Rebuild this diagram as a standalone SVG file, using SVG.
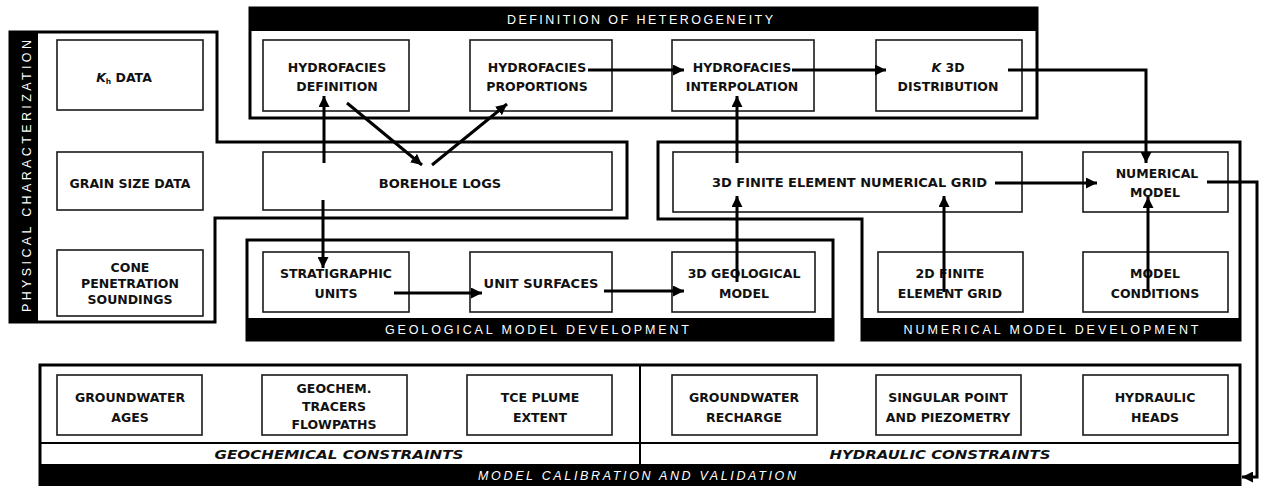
<svg xmlns="http://www.w3.org/2000/svg" width="1262" height="486" viewBox="0 0 1262 486">
<style>
.frame{fill:none;stroke:#000;stroke-width:3}
.box{fill:#fff;stroke:#1a1a1a;stroke-width:1.6}
.band{fill:#000}
.lbl{font-family:"DejaVu Sans","Liberation Sans",sans-serif;font-weight:bold;font-size:12.5px;text-anchor:middle;fill:#111}
.hdr{font-family:"Liberation Sans",Arial,sans-serif;font-size:12.5px;fill:#fff;text-anchor:middle}
.sub{font-family:"DejaVu Sans","Liberation Sans",sans-serif;font-size:13px;font-weight:bold;font-style:italic;text-anchor:middle;fill:#111}
.con{fill:none;stroke:#000;stroke-width:3}
</style>
<defs>
<marker id="ah" viewBox="0 0 10 10" refX="10" refY="5" markerWidth="11" markerHeight="11" markerUnits="userSpaceOnUse" orient="auto">
<path d="M0,0 L10,5 L0,10 Z" fill="#000"/>
</marker>
</defs>
<rect width="1262" height="486" fill="#fff"/>

<g id="physical-characterization">
<polygon class="frame" points="10,32 217,32 217,142 627,142 627,218 215,218 215,322 10,322"/>
<rect class="band" x="10" y="32" width="28" height="290"/>
<text class="hdr" transform="translate(31,176) rotate(-90)" textLength="272" lengthAdjust="spacing">PHYSICAL CHARACTERIZATION</text>
</g>
<g id="definition-of-heterogeneity">
<rect class="frame" x="250" y="8" width="787" height="110"/>
<rect class="band" x="250" y="8" width="787" height="23"/>
<text class="hdr" x="640" y="24" textLength="266" lengthAdjust="spacing">DEFINITION OF HETEROGENEITY</text>
</g>
<g id="geological-model-development">
<rect class="frame" x="247" y="240" width="586" height="100"/>
<rect class="band" x="247" y="318" width="586" height="22"/>
<text class="hdr" x="537" y="334" textLength="304" lengthAdjust="spacing">GEOLOGICAL MODEL DEVELOPMENT</text>
</g>
<g id="numerical-model-development">
<polygon class="frame" points="658,142 1240,142 1240,340 862,340 862,219 658,219"/>
<rect class="band" x="862" y="318" width="378" height="22"/>
<text class="hdr" x="1051" y="334" textLength="295" lengthAdjust="spacing">NUMERICAL MODEL DEVELOPMENT</text>
</g>
<g id="model-calibration">
<rect class="frame" x="40" y="365" width="1200" height="125"/>
<line x1="640" y1="365" x2="640" y2="464" stroke="#000" stroke-width="2"/>
<line x1="40" y1="443" x2="1240" y2="443" stroke="#000" stroke-width="2"/>
<rect class="band" x="40" y="464" width="1200" height="22"/>
<text class="hdr" x="637" y="480" style="font-style:italic" textLength="318" lengthAdjust="spacing">MODEL CALIBRATION AND VALIDATION</text>
<text class="sub" x="339" y="459" textLength="249" lengthAdjust="spacingAndGlyphs">GEOCHEMICAL CONSTRAINTS</text>
<text class="sub" x="940" y="459" textLength="221" lengthAdjust="spacingAndGlyphs">HYDRAULIC CONSTRAINTS</text>
</g>

<g id="kh-data"><rect class="box" x="57" y="40" width="146" height="70"/><text class="lbl" x="124" y="82"><tspan font-style="italic">K</tspan><tspan font-size="7.5" dy="2">h</tspan><tspan dy="-2"> DATA</tspan></text></g>
<g id="grain-size"><rect class="box" x="57" y="152" width="146" height="58"/><text class="lbl" x="130" y="188">GRAIN SIZE DATA</text></g>
<g id="cone"><rect class="box" x="57" y="250" width="146" height="66"/><text class="lbl" x="130" y="272">CONE</text><text class="lbl" x="130" y="288">PENETRATION</text><text class="lbl" x="130" y="304">SOUNDINGS</text></g>

<g id="hydrofacies-definition"><rect class="box" x="263" y="40" width="146" height="71"/><text class="lbl" x="337" y="72">HYDROFACIES</text><text class="lbl" x="337" y="91">DEFINITION</text></g>
<g id="hydrofacies-proportions"><rect class="box" x="470" y="40" width="142" height="71"/><text class="lbl" x="537" y="72">HYDROFACIES</text><text class="lbl" x="537" y="91">PROPORTIONS</text></g>
<g id="hydrofacies-interpolation"><rect class="box" x="672" y="40" width="142" height="71"/><text class="lbl" x="742" y="72">HYDROFACIES</text><text class="lbl" x="742" y="91">INTERPOLATION</text></g>
<g id="k3d"><rect class="box" x="876" y="40" width="146" height="71"/><text class="lbl" x="948" y="72"><tspan font-style="italic">K</tspan> 3D</text><text class="lbl" x="948" y="91">DISTRIBUTION</text></g>

<g id="borehole-logs"><rect class="box" x="263" y="152" width="349" height="58"/><text class="lbl" x="440" y="188" style="font-size:13px">BOREHOLE LOGS</text></g>
<g id="grid-3d"><rect class="box" x="673" y="152" width="349" height="60"/><text class="lbl" x="712" y="187" style="text-anchor:start;font-size:13px">3D FINITE ELEMENT NUMERICAL GRID</text></g>
<g id="numerical-model"><rect class="box" x="1083" y="152" width="145" height="60"/><text class="lbl" x="1157" y="178">NUMERICAL</text><text class="lbl" x="1155" y="197">MODEL</text></g>

<g id="stratigraphic-units"><rect class="box" x="263" y="252" width="146" height="60"/><text class="lbl" x="336" y="278">STRATIGRAPHIC</text><text class="lbl" x="336" y="298">UNITS</text></g>
<g id="unit-surfaces"><rect class="box" x="470" y="252" width="142" height="60"/><text class="lbl" x="541" y="288" style="font-size:13px">UNIT SURFACES</text></g>
<g id="geological-model"><rect class="box" x="672" y="252" width="143" height="60"/><text class="lbl" x="744" y="278">3D GEOLOGICAL</text><text class="lbl" x="744" y="298">MODEL</text></g>
<g id="grid-2d"><rect class="box" x="878" y="252" width="145" height="60"/><text class="lbl" x="950" y="278">2D FINITE</text><text class="lbl" x="950" y="298">ELEMENT GRID</text></g>
<g id="model-conditions"><rect class="box" x="1083" y="252" width="145" height="60"/><text class="lbl" x="1155" y="278">MODEL</text><text class="lbl" x="1155" y="298">CONDITIONS</text></g>

<g id="groundwater-ages"><rect class="box" x="57" y="375" width="145" height="60"/><text class="lbl" x="130" y="402">GROUNDWATER</text><text class="lbl" x="130" y="422">AGES</text></g>
<g id="geochem-tracers"><rect class="box" x="262" y="375" width="145" height="60"/><text class="lbl" x="334" y="393">GEOCHEM.</text><text class="lbl" x="334" y="411">TRACERS</text><text class="lbl" x="334" y="429">FLOWPATHS</text></g>
<g id="tce-plume"><rect class="box" x="467" y="375" width="145" height="60"/><text class="lbl" x="540" y="402">TCE PLUME</text><text class="lbl" x="540" y="422">EXTENT</text></g>
<g id="groundwater-recharge"><rect class="box" x="672" y="375" width="145" height="60"/><text class="lbl" x="744" y="402">GROUNDWATER</text><text class="lbl" x="744" y="422">RECHARGE</text></g>
<g id="singular-point"><rect class="box" x="876" y="375" width="145" height="60"/><text class="lbl" x="948" y="402">SINGULAR POINT</text><text class="lbl" x="948" y="422">AND PIEZOMETRY</text></g>
<g id="hydraulic-heads"><rect class="box" x="1083" y="375" width="145" height="60"/><text class="lbl" x="1155" y="402">HYDRAULIC</text><text class="lbl" x="1155" y="422">HEADS</text></g>

<g id="connectors">
<path class="con" d="M324,163 L324,96" marker-end="url(#ah)"/>
<path class="con" d="M347,103 L422,165" marker-end="url(#ah)"/>
<path class="con" d="M432,165 L507,104" marker-end="url(#ah)"/>
<path class="con" d="M323,200 L323,268" marker-end="url(#ah)"/>
<path class="con" d="M588,70 L684,70" marker-end="url(#ah)"/>
<path class="con" d="M792,70 L886,70" marker-end="url(#ah)"/>
<path class="con" d="M1008,70 L1146,70 L1146,163" marker-end="url(#ah)"/>
<path class="con" d="M394,293 L482,293" marker-end="url(#ah)"/>
<path class="con" d="M604,291 L684,291" marker-end="url(#ah)"/>
<path class="con" d="M737,282 L737,196" marker-end="url(#ah)"/>
<path class="con" d="M737,163 L737,96" marker-end="url(#ah)"/>
<path class="con" d="M944,292 L944,196" marker-end="url(#ah)"/>
<path class="con" d="M995,183 L1097,183" marker-end="url(#ah)"/>
<path class="con" d="M1148,292 L1148,197" marker-end="url(#ah)"/>
<path class="con" d="M1207,182 L1257,182 L1257,477 L1242,477" marker-end="url(#ah)"/>
</g>
</svg>
